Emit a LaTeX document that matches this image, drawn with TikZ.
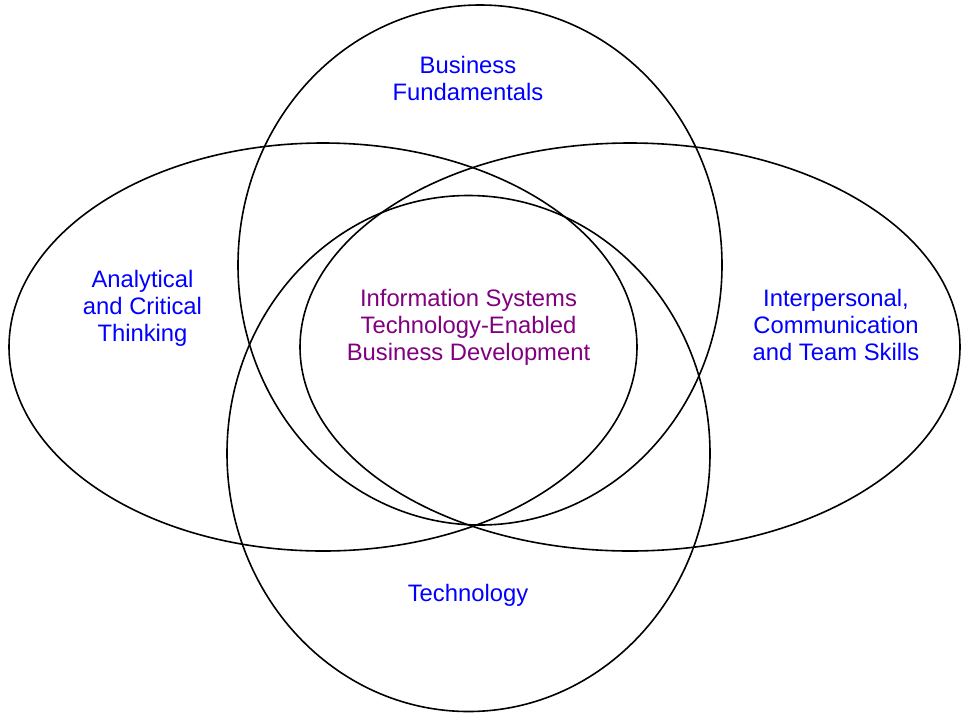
\documentclass[tikz,border=0pt]{standalone}
\usepackage{fontspec}
\setmainfont{Liberation Sans}
\definecolor{setblue}{RGB}{0,0,255}
\definecolor{corepurple}{RGB}{128,0,128}
\begin{document}
\begin{tikzpicture}[x=1pt,y=-1pt,
  venn/.style={draw=black, line width=1.6pt},
  setlabel/.style={text=setblue, font=\fontsize{23.8}{27}\selectfont, align=center, anchor=north, inner sep=0pt},
  corelabel/.style={setlabel, text=corepurple}]
\useasboundingbox (0,0) rectangle (961,713);
% the four sets
\draw[venn] (480,265) ellipse [x radius=242, y radius=260];
\draw[venn] (323,347) ellipse [x radius=314, y radius=204];
\draw[venn] (630,347) ellipse [x radius=330, y radius=204];
\draw[venn] (468.5,453.5) ellipse [x radius=241.5, y radius=258];
% labels
\node[setlabel] (business) at (468,56) {Business\\Fundamentals};
\node[setlabel] (analytical) at (142.5,270) {Analytical\\and Critical\\Thinking};
\node[corelabel] (core) at (468.5,289) {Information Systems\\Technology-Enabled\\Business Development};
\node[setlabel] (interpersonal) at (836,289) {Interpersonal,\\Communication\\and Team Skills};
\node[setlabel] (technology) at (468,584) {Technology};
\end{tikzpicture}
\end{document}
